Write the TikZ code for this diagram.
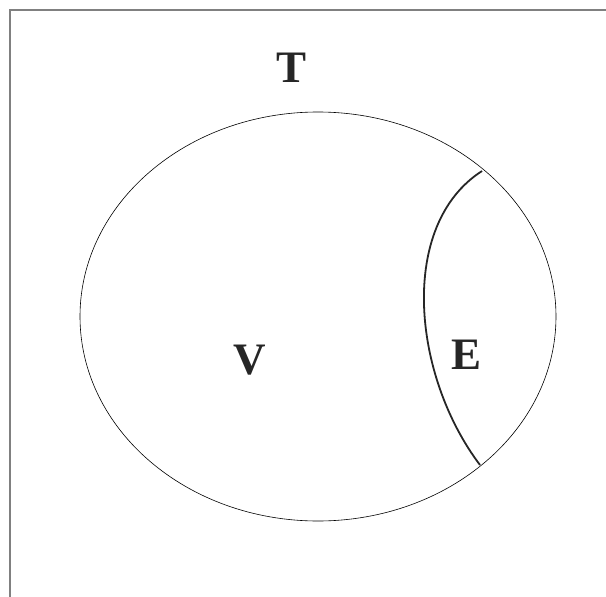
\documentclass[tikz,border=0pt]{standalone}
\usepackage{fontspec}
\setmainfont{Liberation Serif}
\usetikzlibrary{shapes.geometric}
\begin{document}
\begin{tikzpicture}[x=1pt,y=-1pt,
  lbl/.style={font=\fontsize{45}{50}\selectfont\bfseries, text=black!85, inner sep=0pt},
  frame/.style={draw=black!50, line width=1.5pt}]
\useasboundingbox (0,0) rectangle (606,597);
\coordinate (tl) at (10,10);
\coordinate (tr) at (606,10);
\coordinate (bl) at (10,597);
\draw[frame] (tr) -- (tl) -- (bl);
\node[draw=black, line width=0.6pt, ellipse, minimum width=476pt, minimum height=409pt, inner sep=0pt] (ell) at (318,316.5) {};
\coordinate (ctop) at (482,171);
\coordinate (cbot) at (480,465);
\draw[line width=1.8pt, black!85] (ctop) .. controls (398,225) and (412,375) .. (cbot);
\node[lbl] (T) at (292,68) {T};
\node[lbl] (V) at (250,360) {V};
\node[lbl] (E) at (467,355) {E};
\end{tikzpicture}
\end{document}
